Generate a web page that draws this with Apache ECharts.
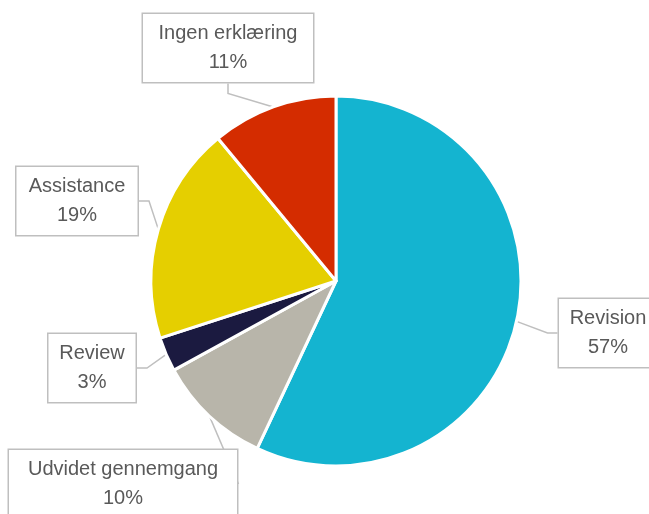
<!DOCTYPE html>
<html>
<head>
<meta charset="utf-8">
<script src="https://cdn.jsdelivr.net/npm/echarts@6/dist/echarts.min.js"></script>
<style>
  html, body { margin: 0; padding: 0; background: #fff; }
  #chart { width: 649px; height: 514px; }
</style>
</head>
<body>
<div id="chart"></div>
<script>
const categories = ['Revision', 'Udvidet gennemgang', 'Review', 'Assistance', 'Ingen erklæring'];
const values = [57, 10, 3, 19, 11];
const colors = ['#14b4d0', '#b8b5aa', '#1b1a40', '#e5cf00', '#d42c00'];

// callout boxes: centre and inner text width
const labelPos = [[608, 333], [123, 484], [92, 368], [77, 201], [228, 48]];
const labelWidth = [80, 210, 69, 103, 152];

const chart = echarts.init(document.getElementById('chart'));

chart.setOption({
  animation: false,
  series: [{
    type: 'pie',
    center: [336, 281],
    radius: 185,
    startAngle: 90,
    clockwise: true,
    data: categories.map((name, i) => ({
      name: name,
      value: values[i],
      itemStyle: { color: colors[i] },
      label: { width: labelWidth[i] }
    })),
    itemStyle: { borderColor: '#fff', borderWidth: 3 },
    label: {
      formatter: '{b}\n{c}%',
      fontFamily: 'Liberation Sans',
      fontSize: 20,
      lineHeight: 29,
      color: '#595959',
      align: 'center',
      backgroundColor: '#fff',
      borderColor: '#bfbfbf',
      borderWidth: 1.5,
      padding: [5, 9],
      overflow: 'none'
    },
    labelLine: {
      show: true,
      length: 10,
      length2: 10,
      lineStyle: { color: '#bfbfbf', width: 1.5 }
    },
    labelLayout: function (params) {
      const p = labelPos[params.dataIndex];
      return { x: p[0], y: p[1], align: 'center', verticalAlign: 'middle' };
    }
  }]
});
</script>
</body>
</html>
